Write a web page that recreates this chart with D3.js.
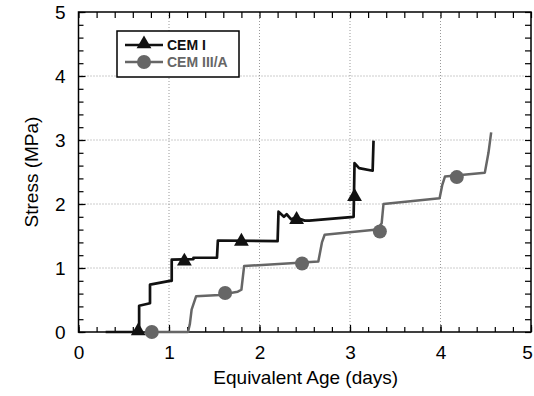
<!DOCTYPE html>
<html>
<head>
<meta charset="utf-8">
<script src="https://cdnjs.cloudflare.com/ajax/libs/d3/7.8.5/d3.min.js"></script>
<style>
  body { margin: 0; background: #fff; }
  svg { display: block; font-family: "Liberation Sans", Arial, sans-serif; }
</style>
</head>
<body>
<svg id="stress_chart" width="534" height="396"></svg>
<script>
// values (days, MPa)
const cem1Days   = [0.30, 0.67, 0.67, 0.79, 0.79, 1.01, 1.03, 1.03, 1.27, 1.27, 1.53, 1.54, 2.20, 2.21, 2.27, 2.30, 2.35, 2.40, 2.50, 2.55, 3.04, 3.05, 3.10, 3.25, 3.26];
const cem1Stress = [0.00, 0.00, 0.41, 0.45, 0.74, 0.80, 0.80, 1.13, 1.14, 1.16, 1.16, 1.43, 1.42, 1.88, 1.80, 1.84, 1.76, 1.79, 1.74, 1.74, 1.80, 2.64, 2.56, 2.52, 2.99];
const cem3Days   = [0.75, 1.21, 1.23, 1.25, 1.30, 1.56, 1.76, 1.80, 1.83, 2.39, 2.65, 2.69, 2.72, 3.30, 3.35, 3.37, 3.99, 4.02, 4.05, 4.49, 4.53, 4.56];
const cem3Stress = [0.00, 0.00, 0.12, 0.35, 0.56, 0.58, 0.63, 0.66, 1.03, 1.08, 1.10, 1.40, 1.52, 1.60, 1.70, 2.00, 2.09, 2.30, 2.43, 2.49, 2.80, 3.12];

const cem1MarkDays   = [0.66, 1.17, 1.80, 2.41, 3.05];
const cem1MarkStress = [0.00, 1.09, 1.40, 1.74, 2.10];
const cem3MarkDays   = [0.81, 1.62, 2.47, 3.33, 4.18];
const cem3MarkStress = [0.00, 0.61, 1.07, 1.57, 2.42];

const xTicks = [0, 1, 2, 3, 4, 5];
const yTicks = [0, 1, 2, 3, 4, 5];
const seriesNames = ["CEM I", "CEM III/A"];

const margin = { top: 12, right: 3, bottom: 64, left: 78.5 };
const width = 534, height = 396;
const grey = "#666";

const svg = d3.select("#stress_chart");

const x = d3.scaleLinear().domain([0, 5]).range([margin.left, width - margin.right]);
const y = d3.scaleLinear().domain([0, 5]).range([height - margin.bottom, margin.top]);

// dotted grid
svg.append("g").selectAll("line").data(xTicks.slice(1, -1)).join("line")
    .attr("x1", d => x(d)).attr("x2", d => x(d))
    .attr("y1", y(5)).attr("y2", y(0))
    .attr("stroke", "#999").attr("stroke-width", 1).attr("stroke-dasharray", "1,2");
svg.append("g").selectAll("line").data(yTicks.slice(1, -1)).join("line")
    .attr("y1", d => y(d)).attr("y2", d => y(d))
    .attr("x1", x(0)).attr("x2", x(5))
    .attr("stroke", "#999").attr("stroke-width", 1).attr("stroke-dasharray", "1,2");

// axes, ticks pointing inside on all four sides
const minor = d3.range(0, 5.01, 0.2);
function drawAxis(axis, transform) {
    const g = svg.append("g").attr("transform", transform).call(axis);
    g.select(".domain").remove();
    g.selectAll(".tick line").attr("stroke", "#000").attr("stroke-width", 1.2);
    return g;
}
const xb = drawAxis(d3.axisBottom(x).tickValues(xTicks).tickSize(-7).tickPadding(14).tickFormat(d3.format("d")),
    `translate(0,${y(0)})`);
drawAxis(d3.axisBottom(x).tickValues(minor).tickSize(-5).tickFormat(""), `translate(0,${y(0)})`);
drawAxis(d3.axisTop(x).tickValues(minor).tickSize(-6).tickFormat(""), `translate(0,${y(5)})`);
const yl = drawAxis(d3.axisLeft(y).tickValues(yTicks).tickSize(-7).tickPadding(13).tickFormat(d3.format("d")),
    `translate(${x(0)},0)`);
drawAxis(d3.axisLeft(y).tickValues(minor).tickSize(-5).tickFormat(""), `translate(${x(0)},0)`);
drawAxis(d3.axisRight(y).tickValues(minor).tickSize(-6).tickFormat(""), `translate(${x(5)},0)`);

xb.selectAll("text").attr("font-size", 19).attr("fill", "#000")
    .attr("dx", d => d === 5 ? -4 : 0);
yl.selectAll("text").attr("font-size", 19).attr("fill", "#000");

// frame
svg.append("rect")
    .attr("x", x(0)).attr("y", y(5))
    .attr("width", x(5) - x(0)).attr("height", y(0) - y(5))
    .attr("fill", "none").attr("stroke", "#000").attr("stroke-width", 1.5);

// series lines
const line = d3.line().x(d => x(d[0])).y(d => y(d[1]));
const cem3 = cem3Days.map((d, i) => [d, cem3Stress[i]]);
const cem1 = cem1Days.map((d, i) => [d, cem1Stress[i]]);

svg.append("path").datum(cem3).attr("d", line)
    .attr("fill", "none").attr("stroke", grey).attr("stroke-width", 2.5).attr("stroke-linejoin", "round");
svg.append("path").datum(cem1).attr("d", line)
    .attr("fill", "none").attr("stroke", "#111").attr("stroke-width", 2.7).attr("stroke-linejoin", "round");

const tri = d3.symbol().type(d3.symbolTriangle).size(95);

svg.append("g").selectAll("circle").data(cem3MarkDays).join("circle")
    .attr("cx", d => x(d)).attr("cy", (d, i) => y(cem3MarkStress[i]))
    .attr("r", 7).attr("fill", grey);
svg.append("g").selectAll("path").data(cem1MarkDays).join("path")
    .attr("d", tri)
    .attr("transform", (d, i) => `translate(${x(d)},${y(cem1MarkStress[i]) - 1})`)
    .attr("fill", "#111");

// axis titles
svg.append("text")
    .attr("x", (x(0) + x(5)) / 2 + 1).attr("y", 384)
    .attr("text-anchor", "middle").attr("font-size", 19)
    .text("Equivalent Age (days)");
svg.append("text")
    .attr("transform", `translate(38,${(y(0) + y(5)) / 2}) rotate(-90)`)
    .attr("text-anchor", "middle").attr("font-size", 19)
    .text("Stress (MPa)");

// legend
const legend = svg.append("g").attr("transform", "translate(117,31)");
legend.append("rect").attr("width", 122).attr("height", 46)
    .attr("fill", "#fff").attr("stroke", "#000").attr("stroke-width", 1.5);
const rows = legend.selectAll("g.row").data(seriesNames).join("g")
    .attr("class", "row")
    .attr("transform", (d, i) => `translate(0,${14 + i * 17})`);
rows.append("line").attr("x1", 8).attr("x2", 46)
    .attr("stroke", (d, i) => i === 0 ? "#111" : grey).attr("stroke-width", 2.5);
rows.filter((d, i) => i === 0).append("path").attr("d", tri)
    .attr("transform", "translate(27,-1)").attr("fill", "#111");
rows.filter((d, i) => i === 1).append("circle").attr("cx", 27).attr("r", 7).attr("fill", grey);
rows.append("text").attr("x", 50).attr("y", 5)
    .attr("font-size", 14).attr("font-weight", "bold")
    .attr("fill", (d, i) => i === 0 ? "#111" : grey)
    .text(d => d);
</script>
</body>
</html>
